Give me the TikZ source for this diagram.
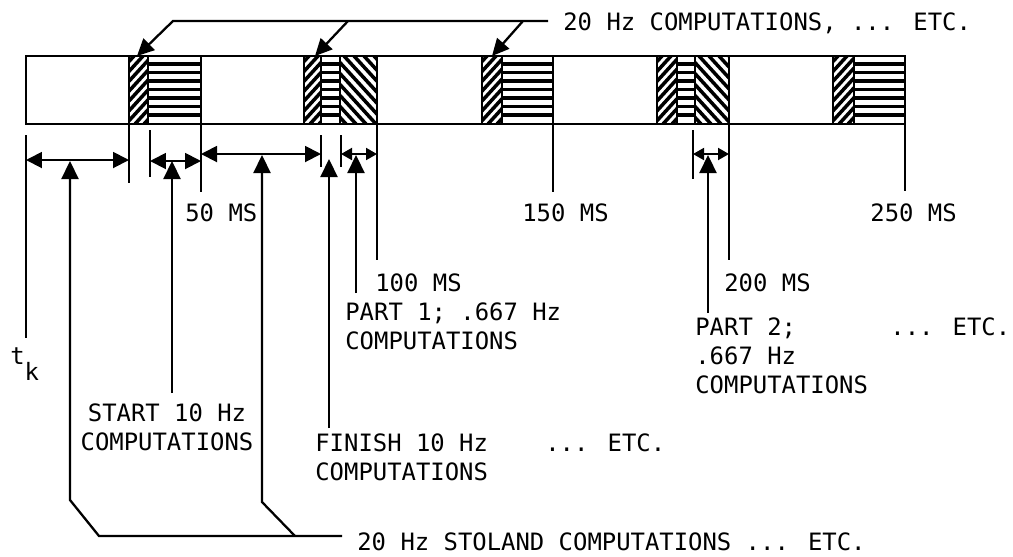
\documentclass[tikz,border=0pt]{standalone}
\usepackage{fontspec}
\newfontfamily\labelmono{DejaVu Sans Mono}
\usetikzlibrary{arrows.meta}
\tikzset{
  barline/.style={line width=1.2pt},
  tickline/.style={line width=1.3pt},
  hatchline/.style={line width=2pt},
  flatline/.style={line width=1.9pt},
  leader/.style={line width=1.3pt, -{Triangle[length=3.4mm,width=3.2mm]}},
  dimarrow/.style={line width=1.1pt, {Triangle[length=3.2mm,width=3.2mm]}-{Triangle[length=3.2mm,width=3.2mm]}},
  shortdim/.style={line width=1.1pt, {Triangle[length=2.2mm,width=2.4mm]}-{Triangle[length=2.2mm,width=2.4mm]}},
  uparrow/.style={line width=1.3pt, -{Triangle[length=3.6mm,width=3.4mm]}},
  msglabel/.style={font=\labelmono\fontsize{13.6pt}{16.5pt}\selectfont, inner sep=0pt, anchor=north west, align=left}
}
\newcommand{\SlashPart}[2]{%
  % #1 left x, #2 right x : "/" hatching
  \begin{scope}
    \clip (#1,56) rectangle (#2,124);
    \foreach \k in {-66,-57,...,30}
      \draw[hatchline] ({#1+\k},124) -- ++(62,-68);
  \end{scope}
  \draw[barline] (#1,56) rectangle (#2,124);
}
\newcommand{\BackPart}[2]{%
  % #1 left x, #2 right x : "\" hatching
  \begin{scope}
    \clip (#1,56) rectangle (#2,124);
    \foreach \k in {-66,-56,...,40}
      \draw[hatchline] ({#1+\k},56) -- ++(62,68);
  \end{scope}
  \draw[barline] (#1,56) rectangle (#2,124);
}
\newcommand{\FlatPart}[2]{%
  % #1 left x, #2 right x : horizontal hatching
  \begin{scope}
    \clip (#1,56) rectangle (#2,124);
    \foreach \yy in {64,72.5,...,120}
      \draw[flatline] (#1,\yy) -- (#2,\yy);
  \end{scope}
  \draw[barline] (#1,56) rectangle (#2,124);
}
\begin{document}
\begin{tikzpicture}[x=0.02cm, y=-0.02cm]
  \useasboundingbox (0,0) rectangle (1013,556);

  % =======================
  % time bar and blocks
  % =======================
  \draw[barline] (26,56) rectangle (905,124);
  \SlashPart{129}{148} \FlatPart{148}{201}
  \SlashPart{304}{321} \FlatPart{321}{340} \BackPart{340}{377}
  \SlashPart{482}{502} \FlatPart{502}{553}
  \SlashPart{657}{677} \FlatPart{677}{695} \BackPart{695}{729}
  \SlashPart{833}{854} \FlatPart{854}{905}

  % =======================
  % 20 Hz leader on top
  % =======================
  \node[msglabel] (top20) at (563,12) {20 Hz COMPUTATIONS, ... ETC.};
  \coordinate (lead20) at (548,21);
  \coordinate (corner20) at (173,21);
  \draw[leader] (lead20) -- (corner20) -- (137,56);
  \draw[leader] (348,21) -- (315,56);
  \draw[leader] (523,21) -- (492,56);

  % =======================
  % ticks below the bar
  % =======================
  \draw[tickline] (26,135) -- (26,338);
  \draw[tickline] (129,124) -- (129,183);
  \draw[tickline] (150,130) -- (150,177);
  \draw[tickline] (201,124) -- (201,192);
  \draw[tickline] (321,135) -- (321,167);
  \draw[tickline] (341,135) -- (341,167);
  \draw[tickline] (377,124) -- (377,260);
  \draw[tickline] (553,124) -- (553,192);
  \draw[tickline] (693,130) -- (693,179);
  \draw[tickline] (729,124) -- (729,260);
  \draw[tickline] (905,124) -- (905,191);

  % intervals
  \draw[dimarrow] (26,160) -- (129,160);
  \draw[dimarrow] (150,161) -- (201,161);
  \draw[dimarrow] (201,154) -- (321,154);
  \draw[shortdim] (341,154) -- (377,154);
  \draw[shortdim] (693,154) -- (729,154);

  % =======================
  % labels
  % =======================
  \node[msglabel] (ms50) at (185,203) {50 MS};
  \node[msglabel] (ms150) at (522,203) {150 MS};
  \node[msglabel] (ms250) at (870,203) {250 MS};
  \node[msglabel] (ms100) at (375,273) {100 MS};
  \node[msglabel] (ms200) at (724,273) {200 MS};
  \node[msglabel] (part1) at (345,302) {PART 1; .667 Hz\\COMPUTATIONS};
  \node[msglabel] (part2) at (695,317) {PART 2;\\.667 Hz\\COMPUTATIONS};
  \node[msglabel] (etcright) at (890,317) {... ETC.};
  \node[msglabel] (tklabel) at (10,347) {t\raisebox{-0.33cm}{k}};
  \node[msglabel, anchor=north, align=center] (start10) at (167,403) {START 10 Hz\\COMPUTATIONS};
  \node[msglabel] (finish10) at (315,433) {FINISH 10 Hz\\COMPUTATIONS};
  \node[msglabel] (etcmid) at (545,433) {... ETC.};
  \node[msglabel] (stoland) at (357,532) {20 Hz STOLAND COMPUTATIONS ... ETC.};

  % =======================
  % pointer arrows from below
  % =======================
  \coordinate (leadst) at (342,536);
  \coordinate (startfoot) at (172,393);
  \draw[uparrow] (leadst) -- (99,536) -- (70,500) -- (70,161);
  \draw[uparrow] (295,536) -- (262,502) -- (262,155);
  \draw[uparrow] (startfoot) -- (172,161);
  \draw[uparrow] (329,428) -- (329,159);
  \draw[uparrow] (356,293) -- (356,155);
  \draw[uparrow] (708,313) -- (708,155);

\end{tikzpicture}
\end{document}
